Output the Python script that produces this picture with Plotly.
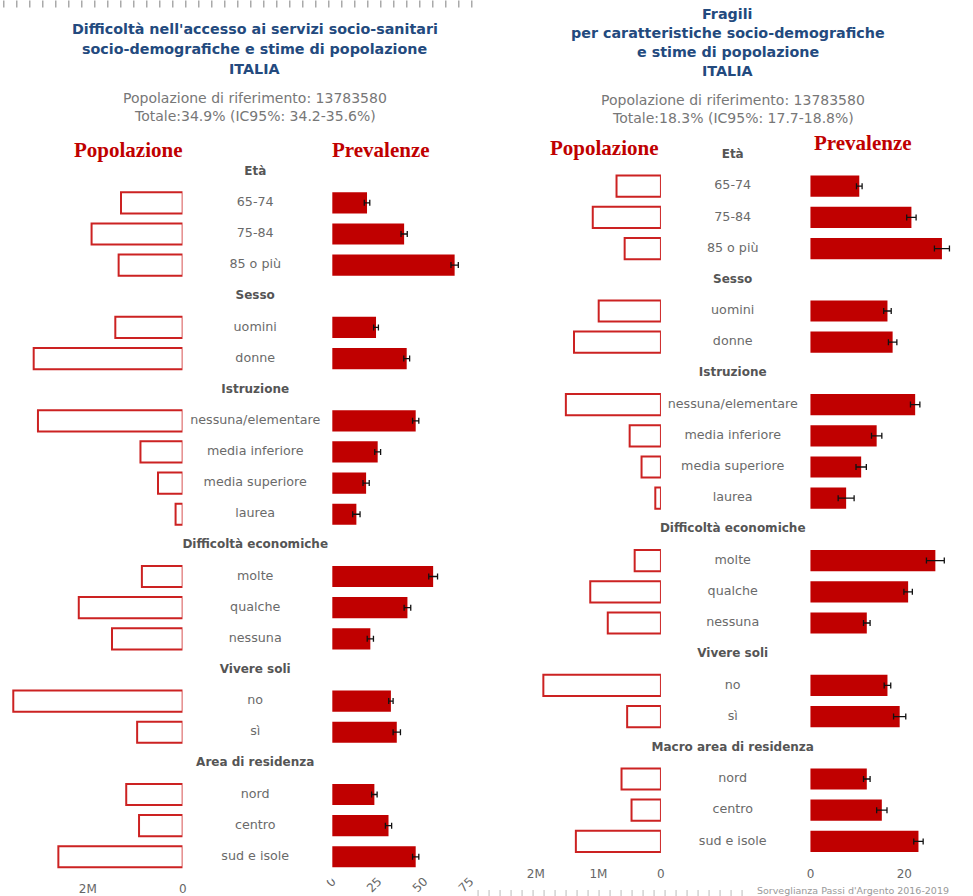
import plotly.graph_objects as go

# ---------------- DATA ----------------
# Left chart: Difficoltà nell'accesso ai servizi socio-sanitari
left_groups = ["Età", "Sesso", "Istruzione", "Difficoltà economiche", "Vivere soli", "Area di residenza"]
left_categories = [
    ["65-74", "75-84", "85 o più"],
    ["uomini", "donne"],
    ["nessuna/elementare", "media inferiore", "media superiore", "laurea"],
    ["molte", "qualche", "nessuna"],
    ["no", "sì"],
    ["nord", "centro", "sud e isole"],
]
left_population = [1.30e6, 1.92e6, 1.35e6, 1.42e6, 3.14e6, 3.05e6, 0.89e6, 0.52e6, 0.15e6,
                   0.86e6, 2.19e6, 1.49e6, 3.57e6, 0.96e6, 1.19e6, 0.92e6, 2.62e6]
left_prevalence = [18.9, 39.1, 66.6, 23.8, 40.5, 45.4, 24.7, 18.4, 13.1,
                   54.9, 40.9, 20.7, 31.9, 35.1, 22.9, 30.6, 45.4]
left_ci_half = [1.5, 1.7, 2.0, 1.3, 1.6, 1.7, 1.6, 1.7, 2.0,
                2.4, 1.8, 1.7, 1.2, 2.0, 1.5, 1.7, 1.7]

# Right chart: Fragili
right_groups = ["Età", "Sesso", "Istruzione", "Difficoltà economiche", "Vivere soli", "Macro area di residenza"]
right_categories = [
    ["65-74", "75-84", "85 o più"],
    ["uomini", "donne"],
    ["nessuna/elementare", "media inferiore", "media superiore", "laurea"],
    ["molte", "qualche", "nessuna"],
    ["no", "sì"],
    ["nord", "centro", "sud e isole"],
]
right_population = [0.71e6, 1.09e6, 0.58e6, 0.995e6, 1.39e6, 1.52e6, 0.50e6, 0.31e6, 0.09e6,
                    0.42e6, 1.13e6, 0.85e6, 1.88e6, 0.54e6, 0.63e6, 0.47e6, 1.36e6]
right_prevalence = [10.4, 21.5, 28.0, 16.4, 17.5, 22.3, 14.1, 10.8, 7.6,
                    26.6, 20.8, 12.0, 16.4, 19.0, 12.0, 15.2, 23.0]
right_ci_half = [0.6, 1.0, 1.6, 0.8, 0.9, 1.0, 1.1, 1.1, 1.7,
                 1.9, 0.9, 0.7, 0.7, 1.3, 0.7, 1.1, 1.0]

left_pop_ticks = [0, 2e6]
left_pop_ticktext = ["0", "2M"]
left_prev_ticks = [0, 25, 50, 75]
right_pop_ticks = [0, 1e6, 2e6]
right_pop_ticktext = ["0", "1M", "2M"]
right_prev_ticks = [0, 20]

left_title = ["Difficoltà nell'accesso ai servizi socio-sanitari",
              "socio-demografiche e stime di popolazione", "ITALIA"]
left_sub = ["Popolazione di riferimento: 13783580", "Totale:34.9% (IC95%: 34.2-35.6%)"]
right_title = ["Fragili", "per caratteristiche socio-demografiche",
               "e stime di popolazione", "ITALIA"]
right_sub = ["Popolazione di riferimento: 13783580", "Totale:18.3% (IC95%: 17.7-18.8%)"]
source_note = "Sorveglianza Passi d'Argento 2016-2019"

# ---------------- LAYOUT HELPERS ----------------
W, H = 973, 896
BOTTOM = 880


def px_x(p):
    return p / W


def px_y(p):
    return 1 - p / H


def rows(groups, cats):
    hdr, idx, labels = [], [], []
    i = 0
    for g, cs in zip(groups, cats):
        hdr.append(i)
        i += 1
        for c in cs:
            idx.append(i)
            labels.append(c)
            i += 1
    return hdr, idx, labels


l_hdr, l_idx, l_lab = rows(left_groups, left_categories)
r_hdr, r_idx, r_lab = rows(right_groups, right_categories)

POP_LINE = "#CC2222"
PREV_FILL = "#C00000"
LABEL_C = "#6a6a6a"
HDR_C = "#555555"
TITLE_C = "#234A7E"
SANS = "DejaVu Sans"

fig = go.Figure()


def add_panel(pop, prev, err, idx, hdr, labs, groups, xp, xv, xl, ya, xlab):
    fig.add_trace(go.Bar(orientation="h", x=pop, y=idx, width=0.68,
                         marker=dict(color="white", line=dict(color=POP_LINE, width=2)),
                         xaxis=xp, yaxis=ya, hoverinfo="x+y"))
    fig.add_trace(go.Bar(orientation="h", x=prev, y=idx, width=0.68,
                         marker=dict(color=PREV_FILL, line=dict(width=0)),
                         error_x=dict(type="data", array=err, color="#111111", thickness=1.3, width=3),
                         xaxis=xv, yaxis=ya))
    fig.add_trace(go.Scatter(x=[xlab] * len(labs), y=idx, text=labs, mode="text",
                             textfont=dict(family=SANS, size=12.7, color=LABEL_C),
                             xaxis=xl, yaxis=ya, cliponaxis=False))
    fig.add_trace(go.Scatter(x=[xlab] * len(groups), y=hdr, text=groups, mode="text",
                             textfont=dict(family=SANS, size=12, color=HDR_C, weight="bold"),
                             xaxis=xl, yaxis=ya, cliponaxis=False))


add_panel(left_population, left_prevalence, left_ci_half, l_idx, l_hdr, l_lab, left_groups,
          "x", "x2", "x3", "y", 0.487)
add_panel(right_population, right_prevalence, right_ci_half, r_idx, r_hdr, r_lab, right_groups,
          "x4", "x5", "x6", "y2", 0.4976)

tickfont = dict(family=SANS, size=12, color="#666666")
common = dict(showgrid=False, zeroline=False, showline=False, ticks="", tickfont=tickfont, fixedrange=True)

# pixel scales
L_POP0, L_POP_PPM = 181.0, 47.8       # px of zero, px per million
L_PREV0, L_PREV_PPP = 331.7, 1.85     # px of 0%, px per percent
R_POP0, R_POP_PPM = 662.7, 63.0
R_PREV0, R_PREV_PPP = 813.3, 4.73

L_ROW0, L_ROWH = 171.7, 31.14
R_ROW0, R_ROWH = 155.0, 31.2

fig.update_layout(
    width=W, height=H, margin=dict(l=0, r=0, t=0, b=0),
    paper_bgcolor="white", plot_bgcolor="white", showlegend=False, barmode="overlay",
    xaxis=dict(domain=[0, px_x(L_POP0)], range=[L_POP0 / L_POP_PPM * 1e6, 0],
               tickvals=left_pop_ticks, ticktext=left_pop_ticktext,
               anchor="free", position=px_y(BOTTOM), **common),
    xaxis2=dict(domain=[px_x(326), px_x(490)],
                range=[(326 - L_PREV0) / L_PREV_PPP, (490 - L_PREV0) / L_PREV_PPP],
                tickvals=left_prev_ticks, ticksuffix="%", tickangle=-45,
                anchor="free", position=px_y(871), **common),
    xaxis3=dict(domain=[px_x(L_POP0), px_x(331)], range=[0, 1], visible=False,
                anchor="y", fixedrange=True),
    xaxis4=dict(domain=[px_x(490), px_x(R_POP0)], range=[(R_POP0 - 490) / R_POP_PPM * 1e6, 0],
                tickvals=right_pop_ticks, ticktext=right_pop_ticktext,
                anchor="free", position=px_y(865), **common),
    xaxis5=dict(domain=[px_x(808), 1],
                range=[(808 - R_PREV0) / R_PREV_PPP, (W - R_PREV0) / R_PREV_PPP],
                tickvals=right_prev_ticks, ticksuffix="%",
                anchor="free", position=px_y(865), **common),
    xaxis6=dict(domain=[px_x(R_POP0), px_x(808)], range=[0, 1], visible=False,
                anchor="y2", fixedrange=True),
    yaxis=dict(domain=[px_y(BOTTOM), 1],
               range=[(BOTTOM - L_ROW0) / L_ROWH, -L_ROW0 / L_ROWH],
               visible=False, anchor="x3", fixedrange=True),
    yaxis2=dict(domain=[px_y(BOTTOM), 1],
                range=[(BOTTOM - R_ROW0) / R_ROWH, -R_ROW0 / R_ROWH],
                visible=False, anchor="x6", fixedrange=True),
)

ann = []


def text(x, y, s, size, color, bold=False, family=SANS, xanchor="center"):
    ann.append(dict(x=px_x(x), y=px_y(y), xref="paper", yref="paper", text=s, showarrow=False,
                    xanchor=xanchor, yanchor="middle",
                    font=dict(family=family, size=size, color=color, weight="bold" if bold else "normal")))


for k, line in enumerate(left_title):
    text(253.5, 29 + 20 * k, line, 14.3, TITLE_C, bold=True)
for k, line in enumerate(left_sub):
    text(253.5, 98 + 18 * k, line, 14, "#777777")
for k, line in enumerate(right_title):
    text(730, 14 + 19 * k, line, 14.3, TITLE_C, bold=True)
for k, line in enumerate(right_sub):
    text(735, 100 + 18 * k, line, 14, "#777777")

SERIF = "Liberation Serif"
text(126, 150, "Popolazione", 21, "#C00000", bold=True, family=SERIF)
text(381, 150, "Prevalenze", 21, "#C00000", bold=True, family=SERIF)
text(605.5, 148, "Popolazione", 21, "#C00000", bold=True, family=SERIF)
text(866, 143, "Prevalenze", 21, "#C00000", bold=True, family=SERIF)

text(757, 890, source_note, 9.5, "#999999", xanchor="left")

fig.update_layout(
    annotations=ann,
    shapes=[
        dict(type="line", xref="paper", yref="paper", x0=0, x1=px_x(482), y0=px_y(4), y1=px_y(4),
             line=dict(color="#aaaaaa", width=7, dash="1.5px,11.5px")),
        dict(type="line", xref="paper", yref="paper", x0=px_x(478), x1=px_x(754), y0=px_y(893),
             y1=px_y(893), line=dict(color="#bbbbbb", width=6, dash="1px,10px")),
    ],
)

# the page's default 8px body margin would push the figure out of the window
fig.write_html("out.html", config={"displayModeBar": False},
               post_script="document.body.style.margin='0';")
